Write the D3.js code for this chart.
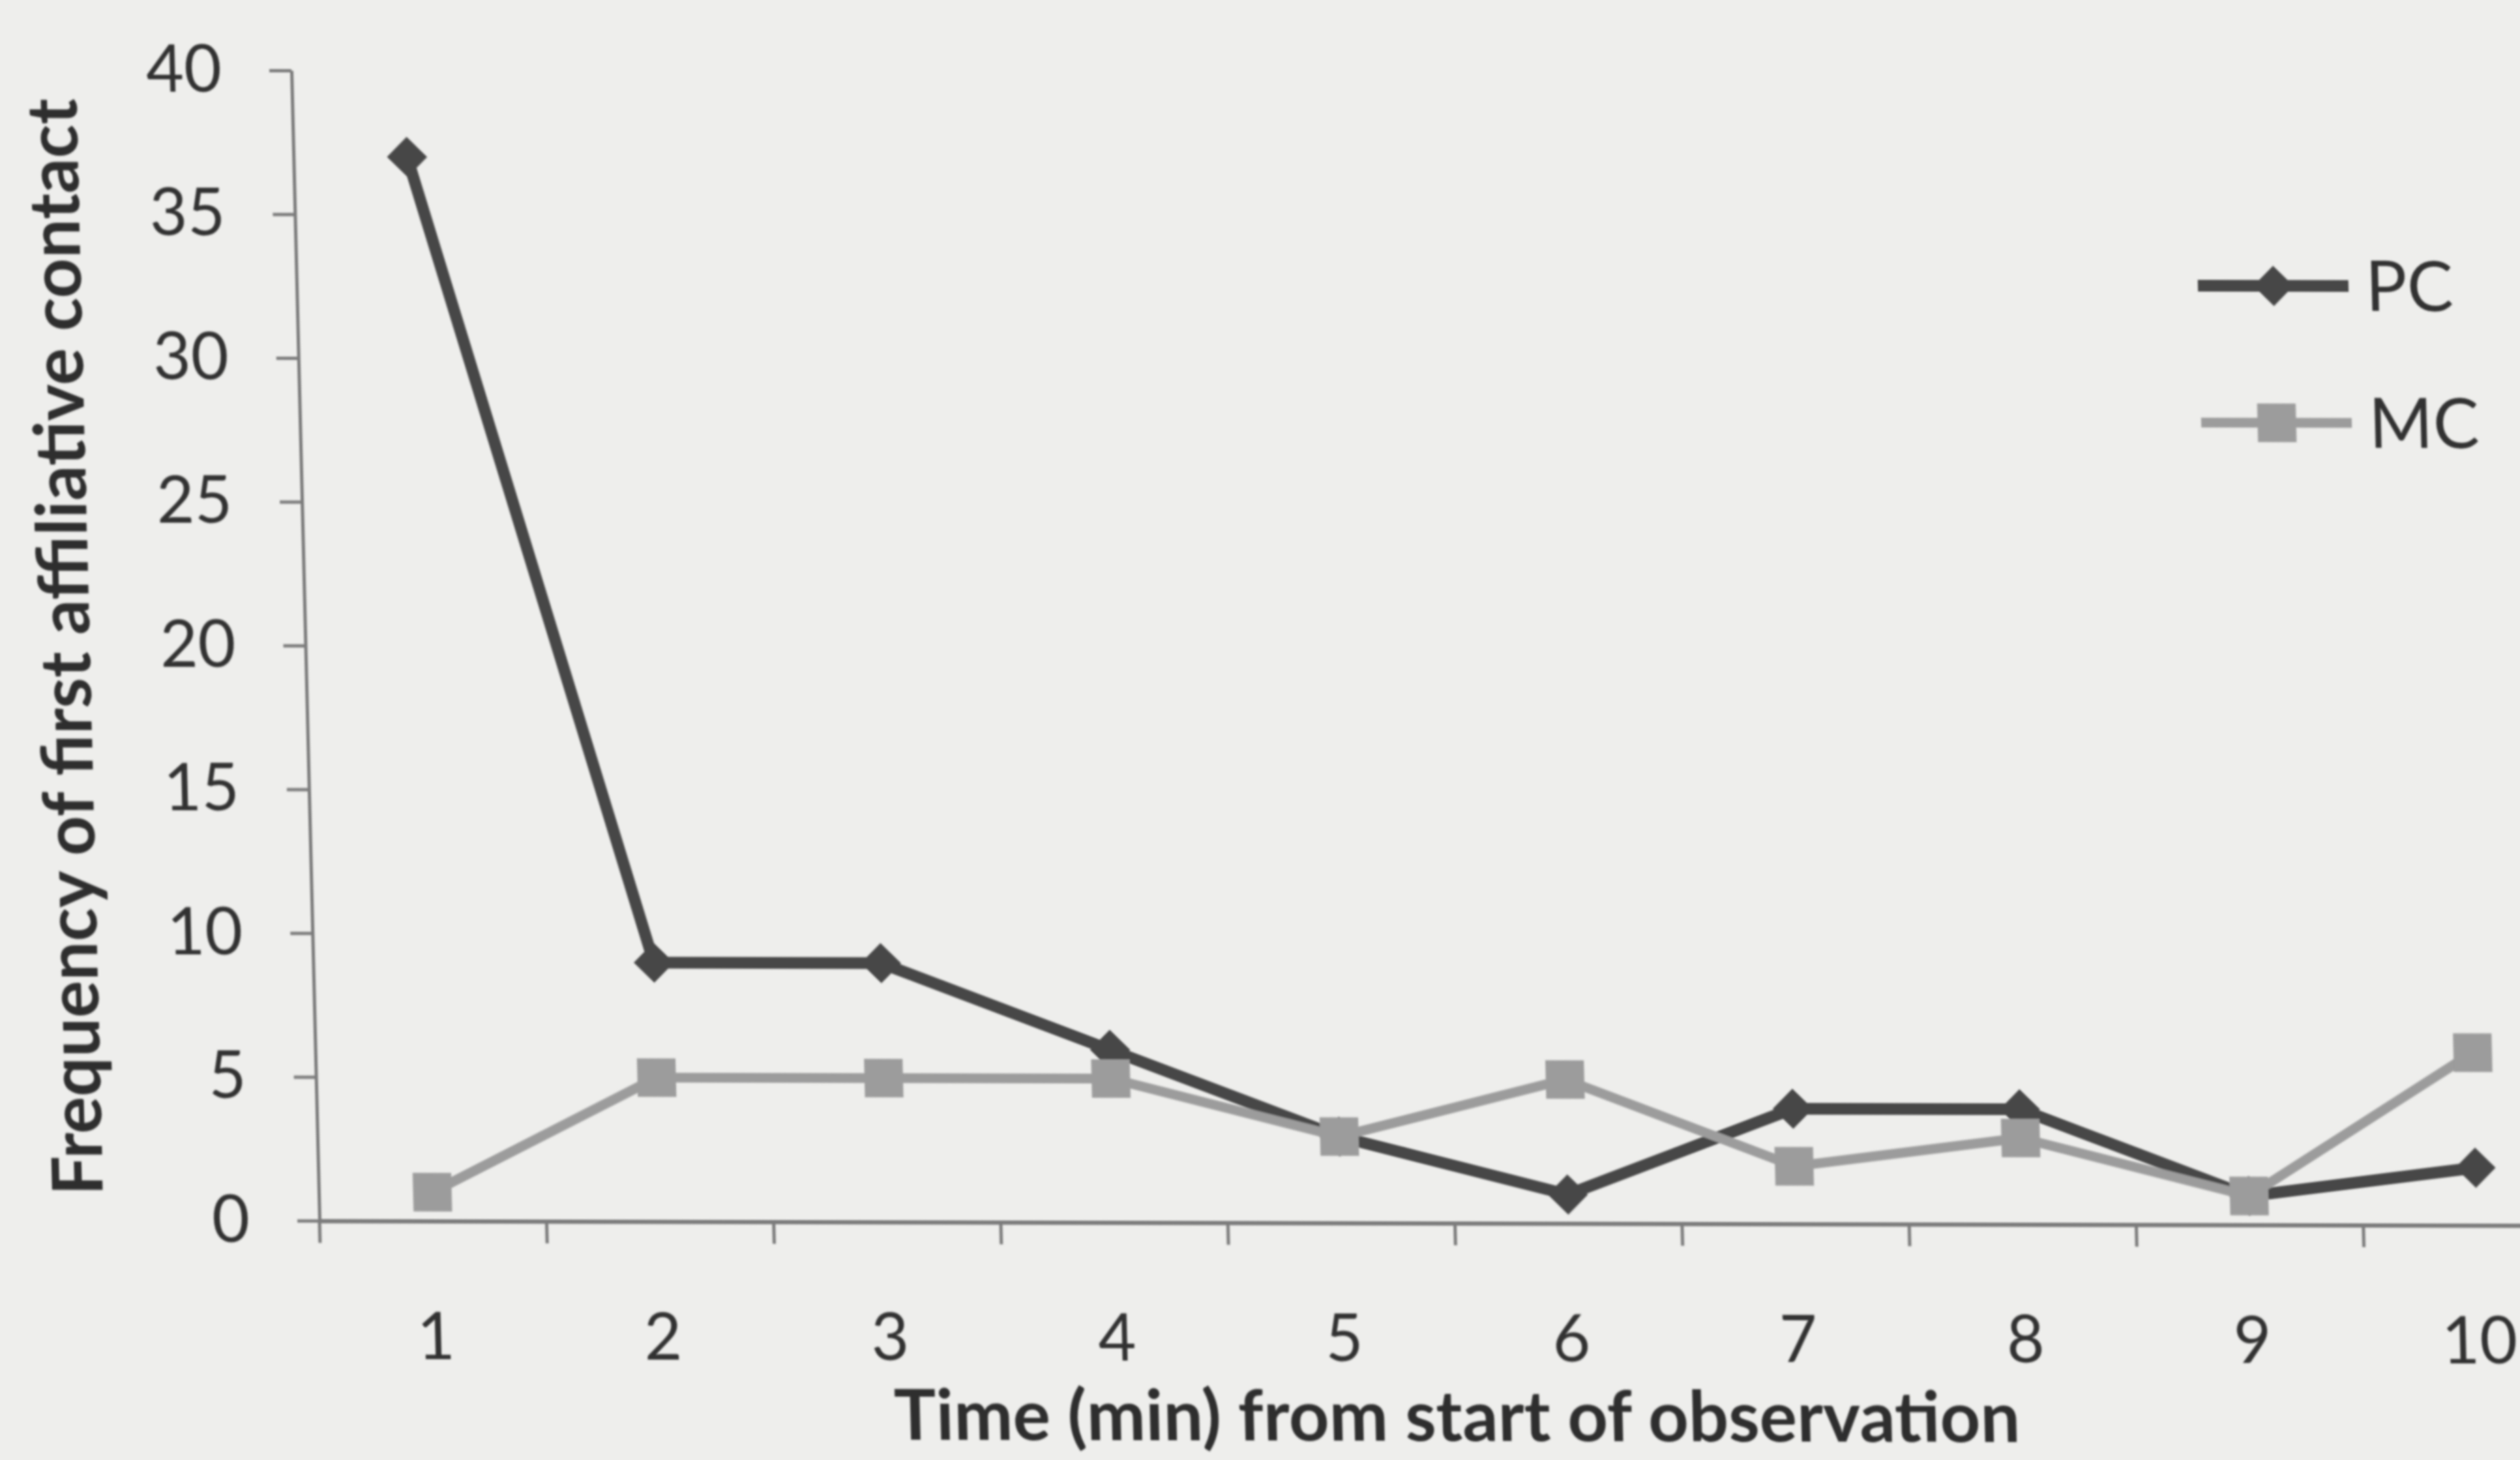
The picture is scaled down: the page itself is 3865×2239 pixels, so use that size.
<!DOCTYPE html>
<html>
<head>
<meta charset="utf-8">
<script src="https://cdn.jsdelivr.net/npm/d3@7"></script>
<style>
  html, body { margin: 0; padding: 0; background: #eeeeec; }
  svg { display: block; }
</style>
</head>
<body>
<div id="chart"></div>
<script>
// Minutes since the start of observation (x categories)
const minutes = ["1", "2", "3", "4", "5", "6", "7", "8", "9", "10"];
// Frequency of first affiliative contact per minute
const pcValues = [37, 9, 9, 6, 3, 1, 4, 4, 1, 2];
const mcValues = [1, 5, 5, 5, 3, 5, 2, 3, 1, 6];
const seriesNames = ["PC", "MC"];
const yTickValues = [0, 5, 10, 15, 20, 25, 30, 35, 40];
const xTitle = "Time (min) from start of observation";
const yTitle = "Frequency of first affiliative contact";

const W = 3865, H = 2239;
const plot = { left: 490, right: 3973, top: 108, bottom: 1872 };

const svg = d3.select("#chart").append("svg")
  .attr("width", W).attr("height", H)
  .attr("viewBox", `0 0 ${W} ${H}`);

svg.append("rect").attr("width", W).attr("height", H).attr("fill", "#eeeeec");

const defs = svg.append("defs");
defs.append("filter").attr("id", "soft")
  .append("feGaussianBlur").attr("stdDeviation", 1.8);

// The printed figure sits slightly slanted on the page
const shearX = 0.0244, shearY = 0.0021;
const g = svg.append("g")
  .attr("filter", "url(#soft)")
  .attr("transform", `matrix(1, ${shearY}, ${shearX}, 1, ${-shearX * plot.bottom}, ${-shearY * plot.left})`);

const x = d3.scaleBand().domain(minutes).range([plot.left, plot.right]).padding(0);
const y = d3.scaleLinear().domain([0, 40]).range([plot.bottom, plot.top]);
const cx = m => x(m) + x.bandwidth() / 2;

const axisColor = "#7c7c7c";
const textColor = "#333333";
const font = "Lato, 'Open Sans', sans-serif";

// Y axis
const yAxis = g.append("g")
  .attr("transform", `translate(${plot.left},0)`)
  .call(d3.axisLeft(y).tickValues(yTickValues).tickSize(34).tickSizeOuter(0).tickPadding(73));
yAxis.select(".domain").attr("stroke", axisColor).attr("stroke-width", 5);
yAxis.selectAll(".tick line").attr("stroke", axisColor).attr("stroke-width", 5);
yAxis.selectAll(".tick text")
  .attr("fill", textColor).attr("font-family", font).attr("font-size", 100);

// X axis: labels centred in each minute, tick marks on the boundaries
const xAxis = g.append("g")
  .attr("transform", `translate(0,${plot.bottom})`)
  .call(d3.axisBottom(x).tickSize(0).tickSizeOuter(0).tickPadding(212));
xAxis.select(".domain").attr("stroke", axisColor).attr("stroke-width", 7);
xAxis.selectAll(".tick text")
  .attr("fill", textColor).attr("font-family", font).attr("font-size", 100)
  .attr("dy", null).attr("dominant-baseline", "alphabetic").attr("y", 212);

const boundaries = minutes.map(m => x(m)).concat([plot.right]);
xAxis.selectAll("line.bound").data(boundaries).join("line")
  .attr("class", "bound")
  .attr("x1", d => d).attr("x2", d => d)
  .attr("y1", 0).attr("y2", 34)
  .attr("stroke", axisColor).attr("stroke-width", 5);

// Axis titles
g.append("text")
  .attr("x", (plot.left + plot.right) / 2 - 4).attr("y", 2206)
  .attr("text-anchor", "middle")
  .attr("font-family", font).attr("font-weight", 700).attr("font-size", 108)
  .attr("fill", "#2e2e2e")
  .attr("textLength", 1727).attr("lengthAdjust", "spacingAndGlyphs")
  .text(xTitle);

g.append("text")
  .attr("transform", `translate(159,993) rotate(-90)`)
  .attr("text-anchor", "middle")
  .attr("font-family", font).attr("font-weight", 700).attr("font-size", 108)
  .attr("fill", "#2e2e2e")
  .attr("textLength", 1682).attr("lengthAdjust", "spacingAndGlyphs")
  .text(yTitle);

// Series
const series = [
  { name: seriesNames[0], values: pcValues, color: "#474747", width: 18,
    symbol: d3.symbol(d3.symbolSquare, 1900), rotate: 45 },
  { name: seriesNames[1], values: mcValues, color: "#9c9c9c", width: 15,
    symbol: d3.symbol(d3.symbolSquare, 3500), rotate: 0 }
];

const line = d3.line().x(d => cx(d.m)).y(d => y(d.v));

series.forEach(s => {
  const pts = minutes.map((m, i) => ({ m, v: s.values[i] }));
  const sg = g.append("g").attr("class", "series-" + s.name);
  sg.append("path").datum(pts)
    .attr("d", line)
    .attr("fill", "none").attr("stroke", s.color)
    .attr("stroke-width", s.width).attr("stroke-linejoin", "round");
  sg.selectAll("path.marker").data(pts).join("path")
    .attr("class", "marker")
    .attr("d", s.symbol)
    .attr("transform", d => `translate(${cx(d.m)},${y(d.v)}) rotate(${s.rotate})`)
    .attr("fill", s.color);
});

// Legend
const legendRows = [432, 642];
series.forEach((s, i) => {
  const lg = g.append("g").attr("transform", `translate(0,${legendRows[i]})`);
  lg.append("line").attr("x1", 3406).attr("x2", 3637)
    .attr("stroke", s.color).attr("stroke-width", s.width);
  lg.append("path").attr("d", s.symbol)
    .attr("transform", `translate(3522,0) rotate(${s.rotate})`)
    .attr("fill", s.color);
  lg.append("text").attr("x", 3663).attr("y", 38)
    .attr("font-family", font).attr("font-size", 106)
    .attr("fill", textColor)
    .text(s.name);
});
</script>
</body>
</html>
